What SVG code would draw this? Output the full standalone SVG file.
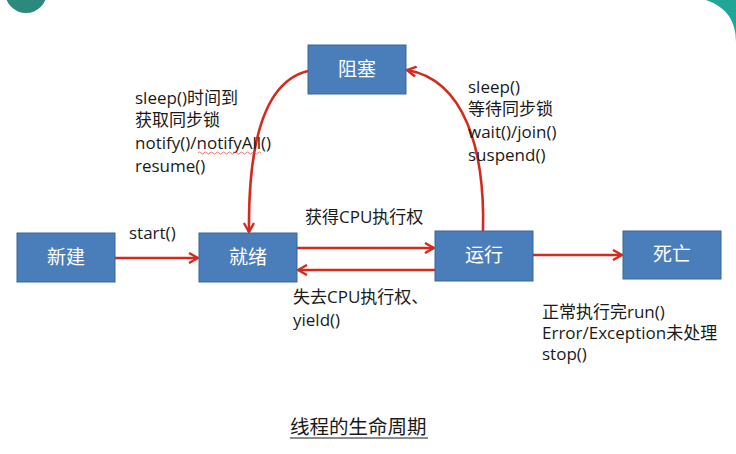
<svg xmlns="http://www.w3.org/2000/svg" width="736" height="454" viewBox="0 0 736 454">
<style>
.box{fill:#4a7ebb;stroke:#3a6496;stroke-width:1}
.bt{font-family:"Noto Sans CJK SC","Noto Sans",sans-serif;font-size:19px;fill:#ffffff;text-anchor:middle}
.lb{font-family:"Open Sans","Noto Sans CJK SC",sans-serif;font-size:17px;fill:#1a1a1a}
.ar{fill:none;stroke:#d42a1e;stroke-width:2.6}
</style>
<defs>
<marker id="ah" viewBox="0 0 12 12" refX="11" refY="6" markerWidth="12" markerHeight="12" markerUnits="userSpaceOnUse" orient="auto">
<polyline points="2,1 11,6 2,11" fill="none" stroke="#d42a1e" stroke-width="2.4"/>
</marker>
</defs>
<rect width="736" height="454" fill="#ffffff"/>
<g id="decor">
<circle cx="26" cy="-8" r="21" fill="#2b8a7c"/>
<path d="M706,0 Q736,10 736,42 L736,0 Z" fill="#1fa698"/>
</g>
<g id="connectors">
<path class="ar" d="M115,258 L198,258" marker-end="url(#ah)"/>
<path class="ar" d="M297,248 L434,248" marker-end="url(#ah)"/>
<path class="ar" d="M435,270 L298,270" marker-end="url(#ah)"/>
<path class="ar" d="M533,255 L622,255" marker-end="url(#ah)"/>
<path class="ar" d="M308,71 C270,80 248,130 249,232" marker-end="url(#ah)"/>
<path class="ar" d="M483,231 C485,150 465,80 407,70" marker-end="url(#ah)"/>
</g>
<g id="n_new"><rect class="box" x="17" y="233" width="98" height="49"/><text class="bt" x="66" y="264">新建</text></g>
<g id="n_ready"><rect class="box" x="199" y="233" width="98" height="49"/><text class="bt" x="248" y="264">就绪</text></g>
<g id="n_run"><rect class="box" x="435" y="231" width="98" height="50"/><text class="bt" x="484" y="262">运行</text></g>
<g id="n_dead"><rect class="box" x="623" y="231" width="98" height="48"/><text class="bt" x="672" y="261">死亡</text></g>
<g id="n_block"><rect class="box" x="308" y="45" width="98" height="49"/><text class="bt" x="357" y="76">阻塞</text></g>
<g id="labels">
<text class="lb" x="135" y="104">sleep()时间到</text>
<text class="lb" x="135" y="126">获取同步锁</text>
<text class="lb" x="135" y="149">notify()/notifyAll()</text>
<text class="lb" x="135" y="172">resume()</text>
<path d="M198,153 q1.5,-2 3,0 t3,0 t3,0 t3,0 t3,0 t3,0 t3,0 t3,0 t3,0 t3,0 t3,0 t3,0 t3,0 t3,0 t3,0 t3,0 t3,0 t3,0 t3,0 t3,0 t3,0" fill="none" stroke="#e05050" stroke-width="0.8"/>
<text class="lb" x="468" y="93">sleep()</text>
<text class="lb" x="468" y="115">等待同步锁</text>
<text class="lb" x="468" y="138">wait()/join()</text>
<text class="lb" x="468" y="161">suspend()</text>
<text class="lb" x="129" y="239">start()</text>
<text class="lb" x="305" y="223">获得CPU执行权</text>
<text class="lb" x="293" y="303">失去CPU执行权、</text>
<text class="lb" x="293" y="326">yield()</text>
<text class="lb" x="542" y="318">正常执行完run()</text>
<text class="lb" x="542" y="339">Error/Exception未处理</text>
<text class="lb" x="542" y="360">stop()</text>
<text class="lb" x="290" y="434" style="font-size:19.5px">线程的生命周期</text>
<line x1="290" y1="438" x2="428" y2="438" stroke="#1a1a1a" stroke-width="1"/>
</g>
</svg>
